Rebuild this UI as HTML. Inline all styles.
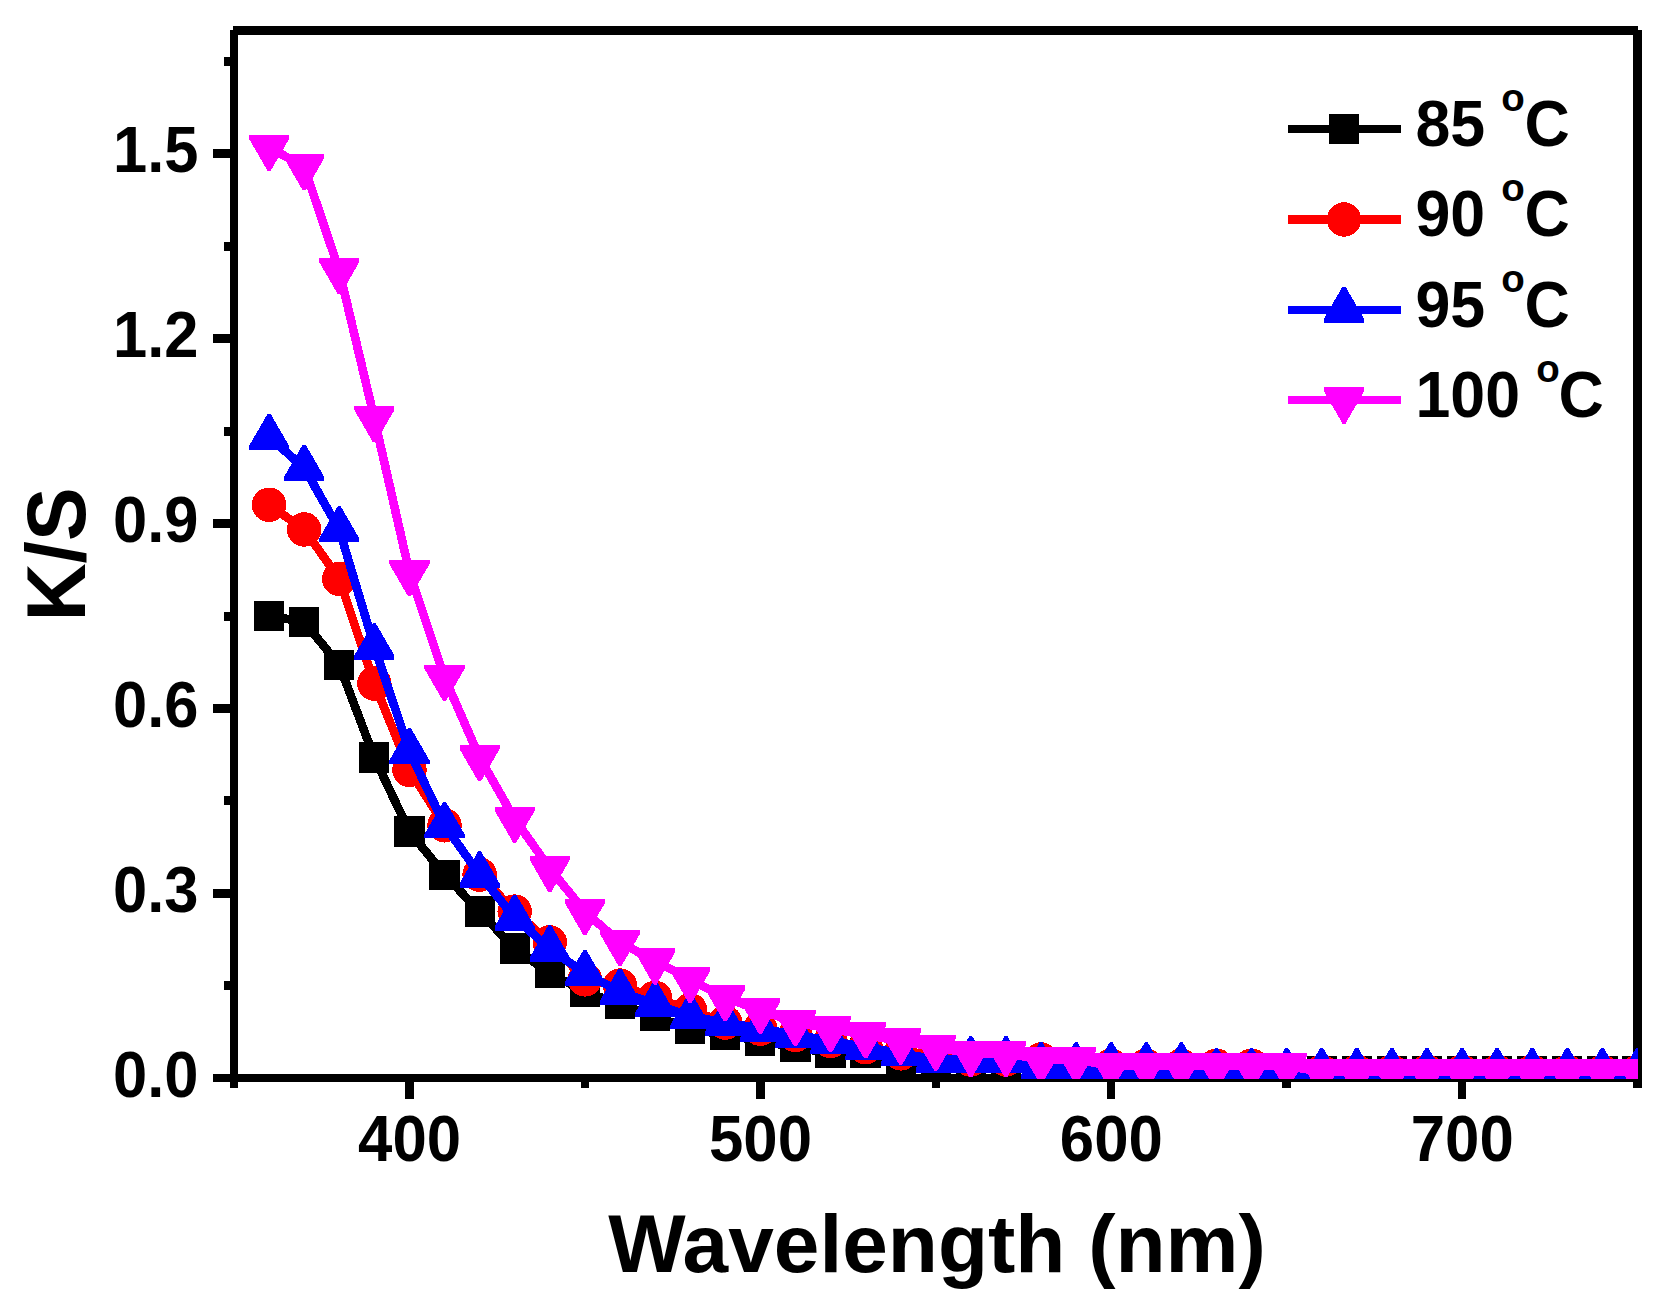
<!DOCTYPE html>
<html lang="en">
<head>
<meta charset="utf-8">
<title>K/S versus Wavelength</title>
<style>
html,body{margin:0;padding:0;background:#fff;}
body{width:1676px;height:1314px;overflow:hidden;}
svg{display:block;}
text{font-family:"Liberation Sans",sans-serif;font-weight:bold;fill:#000;}
.tick{font-size:62.7px;}
.title{font-size:82px;}
.ytitle{font-size:80.5px;}
.leg{font-size:62.7px;}
.sup{font-size:38.5px;}
</style>
</head>
<body>
<svg width="1676" height="1314" viewBox="0 0 1676 1314" shape-rendering="crispEdges">
<rect x="0" y="0" width="1676" height="1314" fill="#fff"/>
<defs><clipPath id="plot"><rect x="234" y="30" width="1404" height="1049"/></clipPath></defs>

<g fill="#000">
<rect x="230" y="30" width="8" height="1058"/>
<rect x="233" y="26" width="1405" height="9"/>
<rect x="1633" y="30" width="9" height="1058"/>
<rect x="213" y="1074" width="1429" height="8"/>
<rect x="213" y="889" width="18" height="9"/>
<rect x="213" y="704" width="18" height="9"/>
<rect x="213" y="519" width="18" height="9"/>
<rect x="213" y="334" width="18" height="9"/>
<rect x="213" y="149" width="18" height="9"/>
<rect x="224" y="981" width="7" height="9"/>
<rect x="224" y="796" width="7" height="9"/>
<rect x="224" y="612" width="7" height="9"/>
<rect x="224" y="427" width="7" height="9"/>
<rect x="224" y="242" width="7" height="9"/>
<rect x="224" y="57" width="7" height="9"/>
<rect x="405" y="1081" width="9" height="18"/>
<rect x="756" y="1081" width="9" height="18"/>
<rect x="1107" y="1081" width="8" height="18"/>
<rect x="1458" y="1081" width="8" height="18"/>
<rect x="581" y="1081" width="8" height="7"/>
<rect x="932" y="1081" width="8" height="7"/>
<rect x="1282" y="1081" width="9" height="7"/>
</g>
<g class="tick" shape-rendering="auto">
<text class="tick" transform="translate(198.5 1096.5) scale(0.98 1.045)" text-anchor="end">0.0</text>
<text class="tick" transform="translate(198.5 911.6) scale(0.98 1.045)" text-anchor="end">0.3</text>
<text class="tick" transform="translate(198.5 726.7) scale(0.98 1.045)" text-anchor="end">0.6</text>
<text class="tick" transform="translate(198.5 541.8) scale(0.98 1.045)" text-anchor="end">0.9</text>
<text class="tick" transform="translate(198.5 356.9) scale(0.98 1.045)" text-anchor="end">1.2</text>
<text class="tick" transform="translate(198.5 172) scale(0.98 1.045)" text-anchor="end">1.5</text>
<text class="tick" transform="translate(409.64 1161) scale(0.985 1.045)" text-anchor="middle">400</text>
<text class="tick" transform="translate(760.51 1161) scale(0.985 1.045)" text-anchor="middle">500</text>
<text class="tick" transform="translate(1111.39 1161) scale(0.985 1.045)" text-anchor="middle">600</text>
<text class="tick" transform="translate(1462.26 1161) scale(0.985 1.045)" text-anchor="middle">700</text>
</g>
<text class="title" transform="translate(937 1271.5)" text-anchor="middle">Wavelength (nm)</text>
<text class="ytitle" transform="translate(85 554.5) rotate(-90) scale(1 1.03)" text-anchor="middle">K/S</text>
<g clip-path="url(#plot)">
<g fill="#000000" stroke="none">
<polyline points="269.09,615.75 304.18,621.92 339.26,665.06 374.35,757.51 409.44,831.47 444.52,874.61 479.61,911.59 514.7,948.57 549.79,973.22 584.88,991.71 619.96,1004.04 655.05,1016.37 690.14,1028.69 725.23,1034.86 760.31,1041.02 795.4,1047.18 830.49,1053.35 865.58,1053.35 900.66,1059.51 935.75,1065.67 970.84,1065.67 1005.92,1065.67 1041.01,1065.67 1076.1,1065.67 1111.19,1071.22 1146.28,1071.22 1181.36,1071.22 1216.45,1071.22 1251.54,1071.22 1286.62,1071.22 1321.71,1071.22 1356.8,1071.22 1391.89,1071.22 1426.97,1071.22 1462.06,1071.22 1497.15,1071.22 1532.24,1071.22 1567.33,1071.22 1602.41,1071.22 1637.5,1071.22" fill="none" stroke="#000000" stroke-width="8.7" stroke-linejoin="round"/>
<rect x="253.99" y="600.65" width="30.2" height="30.2"/>
<rect x="289.07" y="606.82" width="30.2" height="30.2"/>
<rect x="324.16" y="649.96" width="30.2" height="30.2"/>
<rect x="359.25" y="742.41" width="30.2" height="30.2"/>
<rect x="394.34" y="816.37" width="30.2" height="30.2"/>
<rect x="429.42" y="859.51" width="30.2" height="30.2"/>
<rect x="464.51" y="896.49" width="30.2" height="30.2"/>
<rect x="499.6" y="933.47" width="30.2" height="30.2"/>
<rect x="534.69" y="958.12" width="30.2" height="30.2"/>
<rect x="569.77" y="976.61" width="30.2" height="30.2"/>
<rect x="604.86" y="988.94" width="30.2" height="30.2"/>
<rect x="639.95" y="1001.27" width="30.2" height="30.2"/>
<rect x="675.04" y="1013.59" width="30.2" height="30.2"/>
<rect x="710.12" y="1019.76" width="30.2" height="30.2"/>
<rect x="745.21" y="1025.92" width="30.2" height="30.2"/>
<rect x="780.3" y="1032.08" width="30.2" height="30.2"/>
<rect x="815.39" y="1038.25" width="30.2" height="30.2"/>
<rect x="850.48" y="1038.25" width="30.2" height="30.2"/>
<rect x="885.56" y="1044.41" width="30.2" height="30.2"/>
<rect x="920.65" y="1050.57" width="30.2" height="30.2"/>
<rect x="955.74" y="1050.57" width="30.2" height="30.2"/>
<rect x="990.82" y="1050.57" width="30.2" height="30.2"/>
<rect x="1025.91" y="1050.57" width="30.2" height="30.2"/>
<rect x="1061" y="1050.57" width="30.2" height="30.2"/>
<rect x="1096.09" y="1056.12" width="30.2" height="30.2"/>
<rect x="1131.18" y="1056.12" width="30.2" height="30.2"/>
<rect x="1166.26" y="1056.12" width="30.2" height="30.2"/>
<rect x="1201.35" y="1056.12" width="30.2" height="30.2"/>
<rect x="1236.44" y="1056.12" width="30.2" height="30.2"/>
<rect x="1271.53" y="1056.12" width="30.2" height="30.2"/>
<rect x="1306.61" y="1056.12" width="30.2" height="30.2"/>
<rect x="1341.7" y="1056.12" width="30.2" height="30.2"/>
<rect x="1376.79" y="1056.12" width="30.2" height="30.2"/>
<rect x="1411.88" y="1056.12" width="30.2" height="30.2"/>
<rect x="1446.96" y="1056.12" width="30.2" height="30.2"/>
<rect x="1482.05" y="1056.12" width="30.2" height="30.2"/>
<rect x="1517.14" y="1056.12" width="30.2" height="30.2"/>
<rect x="1552.23" y="1056.12" width="30.2" height="30.2"/>
<rect x="1587.31" y="1056.12" width="30.2" height="30.2"/>
<rect x="1622.4" y="1056.12" width="30.2" height="30.2"/>
</g>
<g fill="#ff0000" stroke="none">
<polyline points="269.09,504.81 304.18,529.47 339.26,578.77 374.35,683.55 409.44,769.84 444.52,825.3 479.61,874.61 514.7,911.59 549.79,942.41 584.88,979.39 619.96,985.55 655.05,997.88 690.14,1010.2 725.23,1022.53 760.31,1028.69 795.4,1034.86 830.49,1041.02 865.58,1047.18 900.66,1053.35 935.75,1053.35 970.84,1059.51 1005.92,1059.51 1041.01,1059.51 1076.1,1065.67 1111.19,1065.67 1146.28,1065.67 1181.36,1065.67 1216.45,1065.67 1251.54,1065.67 1286.62,1071.84 1321.71,1071.84 1356.8,1071.84 1391.89,1071.84 1426.97,1071.84 1462.06,1071.84 1497.15,1071.84 1532.24,1071.84 1567.33,1071.84 1602.41,1071.84 1637.5,1071.84" fill="none" stroke="#ff0000" stroke-width="8.7" stroke-linejoin="round"/>
<circle cx="269.09" cy="504.81" r="17.25"/>
<circle cx="304.18" cy="529.47" r="17.25"/>
<circle cx="339.26" cy="578.77" r="17.25"/>
<circle cx="374.35" cy="683.55" r="17.25"/>
<circle cx="409.44" cy="769.84" r="17.25"/>
<circle cx="444.52" cy="825.3" r="17.25"/>
<circle cx="479.61" cy="874.61" r="17.25"/>
<circle cx="514.7" cy="911.59" r="17.25"/>
<circle cx="549.79" cy="942.41" r="17.25"/>
<circle cx="584.88" cy="979.39" r="17.25"/>
<circle cx="619.96" cy="985.55" r="17.25"/>
<circle cx="655.05" cy="997.88" r="17.25"/>
<circle cx="690.14" cy="1010.2" r="17.25"/>
<circle cx="725.23" cy="1022.53" r="17.25"/>
<circle cx="760.31" cy="1028.69" r="17.25"/>
<circle cx="795.4" cy="1034.86" r="17.25"/>
<circle cx="830.49" cy="1041.02" r="17.25"/>
<circle cx="865.58" cy="1047.18" r="17.25"/>
<circle cx="900.66" cy="1053.35" r="17.25"/>
<circle cx="935.75" cy="1053.35" r="17.25"/>
<circle cx="970.84" cy="1059.51" r="17.25"/>
<circle cx="1005.92" cy="1059.51" r="17.25"/>
<circle cx="1041.01" cy="1059.51" r="17.25"/>
<circle cx="1076.1" cy="1065.67" r="17.25"/>
<circle cx="1111.19" cy="1065.67" r="17.25"/>
<circle cx="1146.28" cy="1065.67" r="17.25"/>
<circle cx="1181.36" cy="1065.67" r="17.25"/>
<circle cx="1216.45" cy="1065.67" r="17.25"/>
<circle cx="1251.54" cy="1065.67" r="17.25"/>
<circle cx="1286.62" cy="1071.84" r="17.25"/>
<circle cx="1321.71" cy="1071.84" r="17.25"/>
<circle cx="1356.8" cy="1071.84" r="17.25"/>
<circle cx="1391.89" cy="1071.84" r="17.25"/>
<circle cx="1426.97" cy="1071.84" r="17.25"/>
<circle cx="1462.06" cy="1071.84" r="17.25"/>
<circle cx="1497.15" cy="1071.84" r="17.25"/>
<circle cx="1532.24" cy="1071.84" r="17.25"/>
<circle cx="1567.33" cy="1071.84" r="17.25"/>
<circle cx="1602.41" cy="1071.84" r="17.25"/>
<circle cx="1637.5" cy="1071.84" r="17.25"/>
</g>
<g fill="#0000ff" stroke="none">
<polyline points="269.09,437.02 304.18,467.83 339.26,529.47 374.35,646.57 409.44,751.35 444.52,825.3 479.61,874.61 514.7,917.75 549.79,948.57 584.88,973.22 619.96,991.71 655.05,1004.04 690.14,1016.37 725.23,1022.53 760.31,1028.69 795.4,1034.86 830.49,1041.02 865.58,1047.18 900.66,1053.35 935.75,1059.51 970.84,1059.51 1005.92,1059.51 1041.01,1065.67 1076.1,1065.67 1111.19,1065.67 1146.28,1065.67 1181.36,1065.67 1216.45,1071.22 1251.54,1071.22 1286.62,1071.22 1321.71,1071.22 1356.8,1071.22 1391.89,1071.22 1426.97,1071.22 1462.06,1071.22 1497.15,1071.22 1532.24,1071.22 1567.33,1071.22 1602.41,1071.22 1637.5,1071.22" fill="none" stroke="#0000ff" stroke-width="8.7" stroke-linejoin="round"/>
<path d="M267.59 413.82h3L289.19 446.02v4H248.99v-4Z"/>
<path d="M302.68 444.63h3L324.28 476.83v4H284.07v-4Z"/>
<path d="M337.76 506.27h3L359.36 538.47v4H319.16v-4Z"/>
<path d="M372.85 623.37h3L394.45 655.57v4H354.25v-4Z"/>
<path d="M407.94 728.15h3L429.54 760.35v4H389.34v-4Z"/>
<path d="M443.02 802.1h3L464.62 834.3v4H424.42v-4Z"/>
<path d="M478.11 851.41h3L499.71 883.61v4H459.51v-4Z"/>
<path d="M513.2 894.55h3L534.8 926.75v4H494.6v-4Z"/>
<path d="M548.29 925.37h3L569.89 957.57v4H529.69v-4Z"/>
<path d="M583.38 950.02h3L604.98 982.22v4H564.77v-4Z"/>
<path d="M618.46 968.51h3L640.06 1000.71v4H599.86v-4Z"/>
<path d="M653.55 980.84h3L675.15 1013.04v4H634.95v-4Z"/>
<path d="M688.64 993.17h3L710.24 1025.37v4H670.04v-4Z"/>
<path d="M723.73 999.33h3L745.33 1031.53v4H705.12v-4Z"/>
<path d="M758.81 1005.49h3L780.41 1037.69v4H740.21v-4Z"/>
<path d="M793.9 1011.66h3L815.5 1043.86v4H775.3v-4Z"/>
<path d="M828.99 1017.82h3L850.59 1050.02v4H810.39v-4Z"/>
<path d="M864.08 1023.98h3L885.68 1056.18v4H845.48v-4Z"/>
<path d="M899.16 1030.15h3L920.76 1062.35v4H880.56v-4Z"/>
<path d="M934.25 1036.31h3L955.85 1068.51v4H915.65v-4Z"/>
<path d="M969.34 1036.31h3L990.94 1068.51v4H950.74v-4Z"/>
<path d="M1004.42 1036.31h3L1026.02 1068.51v4H985.82v-4Z"/>
<path d="M1039.51 1042.47h3L1061.11 1074.67v4H1020.91v-4Z"/>
<path d="M1074.6 1042.47h3L1096.2 1074.67v4H1056v-4Z"/>
<path d="M1109.69 1042.47h3L1131.29 1074.67v4H1091.09v-4Z"/>
<path d="M1144.78 1042.47h3L1166.38 1074.67v4H1126.18v-4Z"/>
<path d="M1179.86 1042.47h3L1201.46 1074.67v4H1161.26v-4Z"/>
<path d="M1214.95 1048.02h3L1236.55 1080.22v4H1196.35v-4Z"/>
<path d="M1250.04 1048.02h3L1271.64 1080.22v4H1231.44v-4Z"/>
<path d="M1285.12 1048.02h3L1306.72 1080.22v4H1266.53v-4Z"/>
<path d="M1320.21 1048.02h3L1341.81 1080.22v4H1301.61v-4Z"/>
<path d="M1355.3 1048.02h3L1376.9 1080.22v4H1336.7v-4Z"/>
<path d="M1390.39 1048.02h3L1411.99 1080.22v4H1371.79v-4Z"/>
<path d="M1425.47 1048.02h3L1447.07 1080.22v4H1406.88v-4Z"/>
<path d="M1460.56 1048.02h3L1482.16 1080.22v4H1441.96v-4Z"/>
<path d="M1495.65 1048.02h3L1517.25 1080.22v4H1477.05v-4Z"/>
<path d="M1530.74 1048.02h3L1552.34 1080.22v4H1512.14v-4Z"/>
<path d="M1565.83 1048.02h3L1587.42 1080.22v4H1547.23v-4Z"/>
<path d="M1600.91 1048.02h3L1622.51 1080.22v4H1582.31v-4Z"/>
<path d="M1636 1048.02h3L1657.6 1080.22v4H1617.4v-4Z"/>
</g>
<g fill="#ff00ff" stroke="none">
<polyline points="269.09,147.34 304.18,166.76 339.26,270.61 374.35,418.53 409.44,572.61 444.52,677.39 479.61,757.51 514.7,819.14 549.79,868.45 584.88,911.59 619.96,942.41 655.05,960.9 690.14,979.39 725.23,997.88 760.31,1010.2 795.4,1022.53 830.49,1028.69 865.58,1034.86 900.66,1041.02 935.75,1047.18 970.84,1053.35 1005.92,1053.35 1041.01,1059.51 1076.1,1059.51 1111.19,1065.67 1146.28,1065.67 1181.36,1065.67 1216.45,1065.67 1251.54,1065.67 1286.62,1065.67 1321.71,1071.84 1356.8,1071.84 1391.89,1071.84 1426.97,1071.84 1462.06,1071.84 1497.15,1071.84 1532.24,1071.84 1567.33,1071.84 1602.41,1071.84 1637.5,1071.84" fill="none" stroke="#ff00ff" stroke-width="8.7" stroke-linejoin="round"/>
<path d="M267.59 170.94h3L289.19 138.74v-4H248.99v4Z"/>
<path d="M302.68 190.36h3L324.28 158.16v-4H284.07v4Z"/>
<path d="M337.76 294.21h3L359.36 262.01v-4H319.16v4Z"/>
<path d="M372.85 442.13h3L394.45 409.93v-4H354.25v4Z"/>
<path d="M407.94 596.21h3L429.54 564.01v-4H389.34v4Z"/>
<path d="M443.02 700.99h3L464.62 668.79v-4H424.42v4Z"/>
<path d="M478.11 781.11h3L499.71 748.91v-4H459.51v4Z"/>
<path d="M513.2 842.74h3L534.8 810.54v-4H494.6v4Z"/>
<path d="M548.29 892.05h3L569.89 859.85v-4H529.69v4Z"/>
<path d="M583.38 935.19h3L604.98 902.99v-4H564.77v4Z"/>
<path d="M618.46 966.01h3L640.06 933.81v-4H599.86v4Z"/>
<path d="M653.55 984.5h3L675.15 952.3v-4H634.95v4Z"/>
<path d="M688.64 1002.99h3L710.24 970.79v-4H670.04v4Z"/>
<path d="M723.73 1021.48h3L745.33 989.28v-4H705.12v4Z"/>
<path d="M758.81 1033.8h3L780.41 1001.6v-4H740.21v4Z"/>
<path d="M793.9 1046.13h3L815.5 1013.93v-4H775.3v4Z"/>
<path d="M828.99 1052.29h3L850.59 1020.09v-4H810.39v4Z"/>
<path d="M864.08 1058.46h3L885.68 1026.26v-4H845.48v4Z"/>
<path d="M899.16 1064.62h3L920.76 1032.42v-4H880.56v4Z"/>
<path d="M934.25 1070.78h3L955.85 1038.58v-4H915.65v4Z"/>
<path d="M969.34 1076.95h3L990.94 1044.75v-4H950.74v4Z"/>
<path d="M1004.42 1076.95h3L1026.02 1044.75v-4H985.82v4Z"/>
<path d="M1039.51 1083.11h3L1061.11 1050.91v-4H1020.91v4Z"/>
<path d="M1074.6 1083.11h3L1096.2 1050.91v-4H1056v4Z"/>
<path d="M1109.69 1089.27h3L1131.29 1057.07v-4H1091.09v4Z"/>
<path d="M1144.78 1089.27h3L1166.38 1057.07v-4H1126.18v4Z"/>
<path d="M1179.86 1089.27h3L1201.46 1057.07v-4H1161.26v4Z"/>
<path d="M1214.95 1089.27h3L1236.55 1057.07v-4H1196.35v4Z"/>
<path d="M1250.04 1089.27h3L1271.64 1057.07v-4H1231.44v4Z"/>
<path d="M1285.12 1089.27h3L1306.72 1057.07v-4H1266.53v4Z"/>
<path d="M1320.21 1095.44h3L1341.81 1063.24v-4H1301.61v4Z"/>
<path d="M1355.3 1095.44h3L1376.9 1063.24v-4H1336.7v4Z"/>
<path d="M1390.39 1095.44h3L1411.99 1063.24v-4H1371.79v4Z"/>
<path d="M1425.47 1095.44h3L1447.07 1063.24v-4H1406.88v4Z"/>
<path d="M1460.56 1095.44h3L1482.16 1063.24v-4H1441.96v4Z"/>
<path d="M1495.65 1095.44h3L1517.25 1063.24v-4H1477.05v4Z"/>
<path d="M1530.74 1095.44h3L1552.34 1063.24v-4H1512.14v4Z"/>
<path d="M1565.83 1095.44h3L1587.42 1063.24v-4H1547.23v4Z"/>
<path d="M1600.91 1095.44h3L1622.51 1063.24v-4H1582.31v4Z"/>
<path d="M1636 1095.44h3L1657.6 1063.24v-4H1617.4v4Z"/>
</g>
</g>
<g>
<g fill="#000000"><rect x="1288" y="124.75" width="112.5" height="8.5"/><rect x="1328.9" y="113.9" width="30.2" height="30.2"/></g>
<g fill="#ff0000"><rect x="1288" y="215.25" width="112.5" height="8.5"/><circle cx="1344" cy="219.5" r="17.25"/></g>
<g fill="#0000ff"><rect x="1288" y="305.55" width="112.5" height="8.5"/><path d="M1342.5 286.6h3L1364.1 318.8v4H1323.9v-4Z"/></g>
<g fill="#ff00ff"><rect x="1288" y="395.75" width="112.5" height="8.5"/><path d="M1342.5 423.6h3L1364.1 391.4v-4H1323.9v4Z"/></g>
<text class="leg" transform="translate(1415.5 146.3) scale(1 1.045)">85</text><text class="sup" transform="translate(1501.3 111.3)">o</text><text class="leg" transform="translate(1524.5 146.3) scale(1 1.045)">C</text>
<text class="leg" transform="translate(1415.5 236.3) scale(1 1.045)">90</text><text class="sup" transform="translate(1501.3 201.3)">o</text><text class="leg" transform="translate(1524.5 236.3) scale(1 1.045)">C</text>
<text class="leg" transform="translate(1415.5 326.9) scale(1 1.045)">95</text><text class="sup" transform="translate(1501.3 291.9)">o</text><text class="leg" transform="translate(1524.5 326.9) scale(1 1.045)">C</text>
<text class="leg" transform="translate(1415.5 416.9) scale(1 1.045)">100</text><text class="sup" transform="translate(1536.3 381.9)">o</text><text class="leg" transform="translate(1558.5 416.9) scale(1 1.045)">C</text>
</g>
</svg>
</body>
</html>
